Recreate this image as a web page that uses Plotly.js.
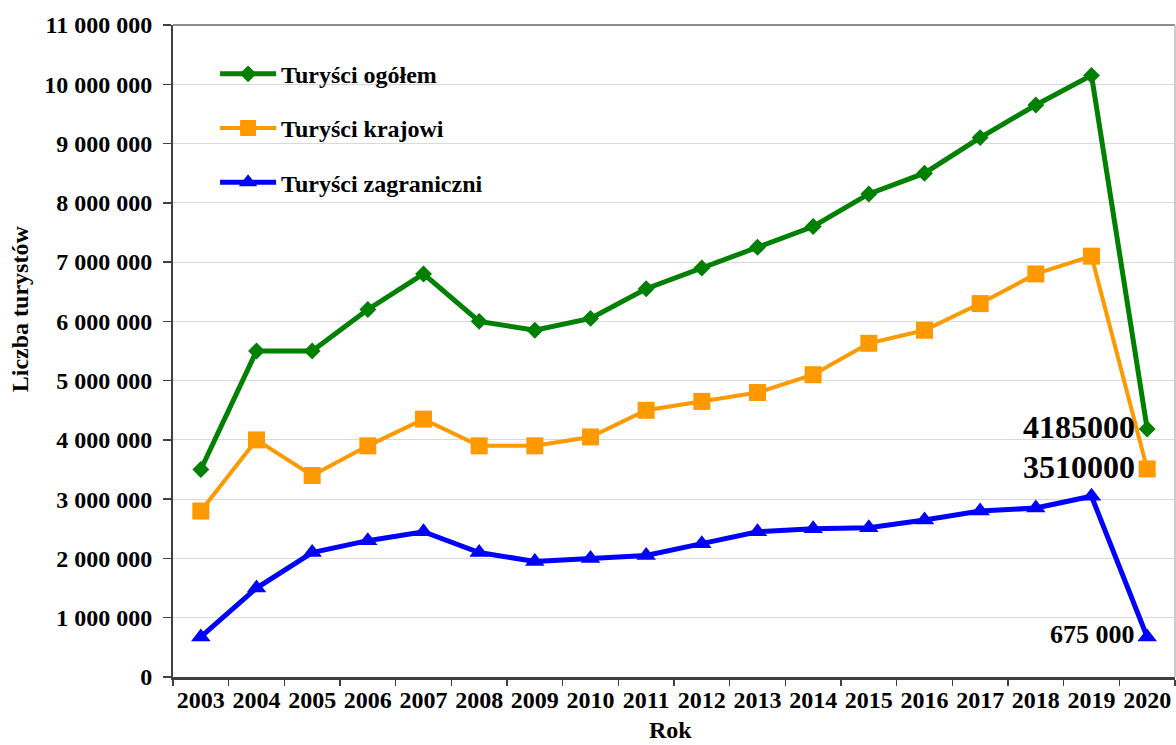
<!DOCTYPE html>
<html>
<head>
<meta charset="utf-8">
<script src="https://cdn.plot.ly/plotly-3.0.1.min.js"></script>
<style>
  html, body { margin: 0; padding: 0; background: #ffffff; }
  #chart { width: 1176px; height: 745px; }
</style>
</head>
<body>
<div id="chart"></div>
<script>
const years = ['2003','2004','2005','2006','2007','2008','2009','2010','2011','2012','2013','2014','2015','2016','2017','2018','2019','2020'];
const ogolem = [3500000,5500000,5500000,6200000,6800000,6000000,5850000,6050000,6550000,6900000,7250000,7600000,8150000,8500000,9100000,9650000,10150000,4185000];
const krajowi = [2800000,4000000,3400000,3900000,4350000,3900000,3900000,4050000,4500000,4650000,4800000,5100000,5630000,5850000,6300000,6800000,7100000,3510000];
const zagraniczni = [675000,1500000,2100000,2300000,2450000,2100000,1950000,2000000,2050000,2250000,2450000,2500000,2520000,2650000,2800000,2850000,3050000,675000];
const seriesNames = ['Turyści ogółem','Turyści krajowi','Turyści zagraniczni'];
const endLabels = ['4185000','3510000','675 000'];

const FONT = "Liberation Serif, Times New Roman, serif";

const traces = [
  {x: years, y: ogolem, name: seriesNames[0], type: 'scatter', mode: 'lines+markers', legendgroup: 'a',
   line: {color: '#008000', width: 5}, marker: {symbol: 'diamond', size: 13, color: '#008000'}},
  {x: years, y: krajowi, name: seriesNames[1], type: 'scatter', mode: 'lines+markers', legendgroup: 'b',
   line: {color: '#FF9900', width: 4}, marker: {symbol: 'square', size: 17, color: '#FF9900'}},
  {x: years, y: zagraniczni, name: seriesNames[2], type: 'scatter', mode: 'lines+markers', legendgroup: 'c',
   line: {color: '#0000FF', width: 5}, marker: {symbol: 'triangle-up', size: 17, color: '#0000FF'}}
];

const last = years.length - 1;
const series = [ogolem, krajowi, zagraniczni];
const labelSizes = [32, 32, 26];
const annotations = series.map((s, i) => ({
  x: last, y: s[last], xref: 'x', yref: 'y',
  text: endLabels[i], showarrow: false, xanchor: 'right', yanchor: 'middle', xshift: -10, yshift: 2,
  font: {family: FONT, size: labelSizes[i], color: '#000', weight: 700}
}));
annotations.push({
  xref: 'paper', yref: 'paper', x: 0, y: 0.564, xshift: -153, textangle: -90,
  text: 'Liczba turystów', showarrow: false, xanchor: 'center', yanchor: 'middle',
  font: {family: FONT, size: 24, color: '#000', weight: 700}
});
annotations.push({
  xref: 'paper', yref: 'paper', x: 0.497, y: -0.1043,
  text: 'Rok', showarrow: false, xanchor: 'center', yanchor: 'bottom',
  font: {family: FONT, size: 24, color: '#000', weight: 700}
});

const layout = {
  width: 1176, height: 745,
  margin: {l: 173, r: 1, t: 25, b: 68, pad: 0},
  paper_bgcolor: '#ffffff', plot_bgcolor: '#ffffff',
  separators: '. ',
  font: {family: FONT, color: '#000'},
  showlegend: true,
  legend: {
    x: 0.042, y: 0.959, xanchor: 'left', yanchor: 'top',
    bgcolor: 'rgba(0,0,0,0)', borderwidth: 0,
    font: {family: FONT, size: 24, color: '#000', weight: 700},
    tracegroupgap: 20, itemwidth: 56
  },
  xaxis: {
    type: 'category', range: [-0.5, 17.5], tickson: 'boundaries', tickangle: 0,
    ticks: 'outside', ticklen: 6, tickwidth: 1.5, tickcolor: '#404040',
    showline: true, linecolor: '#404040', linewidth: 2.5, showgrid: false, zeroline: false,
    tickfont: {family: FONT, size: 24, color: '#000', weight: 700}, fixedrange: true
  },
  yaxis: {
    range: [0, 11000000], dtick: 1000000, tick0: 0, tickformat: ',d',
    ticks: 'outside', ticklen: 8, tickwidth: 1.5, tickcolor: '#404040',
    showline: true, linecolor: '#404040', linewidth: 2,
    showgrid: true, gridcolor: '#d9d9d9', gridwidth: 1, zeroline: false,
    tickfont: {family: FONT, size: 24, color: '#000', weight: 700},
    ticklabelstandoff: 6, fixedrange: true
  },
  shapes: [
    {type: 'line', xref: 'paper', yref: 'paper', x0: 0, x1: 1, y0: 1, y1: 1, line: {color: '#8c8c8c', width: 2}},
    {type: 'line', xref: 'paper', yref: 'paper', x0: 1, x1: 1, y0: 0, y1: 1, line: {color: '#cccccc', width: 2}}
  ],
  annotations: annotations
};

Plotly.newPlot('chart', traces, layout, {displayModeBar: false, staticPlot: true});
</script>
</body>
</html>
